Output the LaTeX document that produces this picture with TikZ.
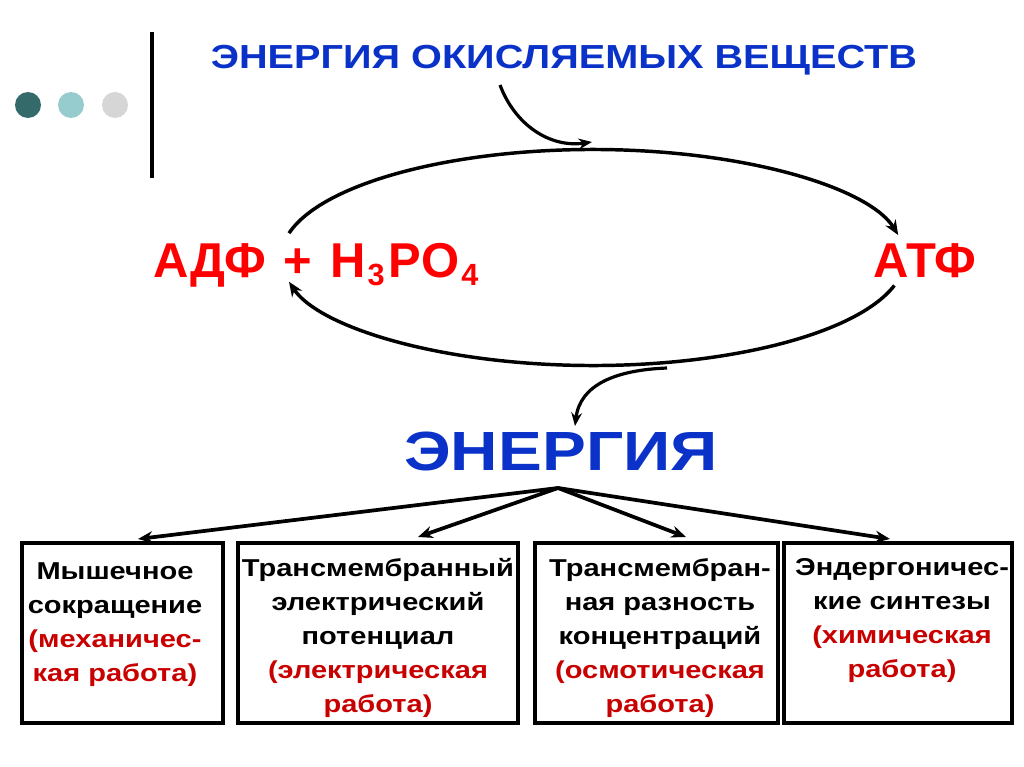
\documentclass[tikz,border=0pt]{standalone}
\usepackage{fontspec}
\setmainfont{Liberation Sans}[FakeStretch=1.19]
\newfontfamily\redfont{Liberation Sans}
\usetikzlibrary{arrows.meta}
\definecolor{ttlblue}{RGB}{10,50,200}
\definecolor{boxred}{RGB}{200,0,0}
\definecolor{dotA}{RGB}{52,106,106}
\definecolor{dotB}{RGB}{150,204,206}
\definecolor{dotC}{RGB}{214,214,214}
\tikzset{
  flow/.style={line width=2.6pt,-{Stealth[length=11pt,width=9pt]}},
  curv/.style={line width=2.4pt,-{Stealth[length=10pt,width=8pt]}},
  branch/.style={line width=2.8pt,-{Stealth[length=11pt,width=9pt]}},
  workbox/.style={draw,line width=3pt,rectangle,inner sep=0pt,minimum height=135pt},
  boxtext/.style={align=center,anchor=north,inner sep=0pt,font=\fontsize{18.3pt}{25.5pt}\selectfont\bfseries},
  bigred/.style={anchor=base west,inner sep=0pt,text=red,font=\redfont\fontsize{36.7pt}{44pt}\selectfont\bfseries}
}
\newcommand{\subdig}[1]{\kern1.5pt{\fontsize{23pt}{24pt}\selectfont\raisebox{-6.5pt}{#1}}\kern3pt}
\begin{document}
\begin{tikzpicture}[x=0.75pt,y=-0.75pt]
\useasboundingbox (0,0) rectangle (1024,767);
% decoration
\fill[dotA] (28,105) circle[radius=13];
\fill[dotB] (71,105) circle[radius=13];
\fill[dotC] (115,105) circle[radius=13];
\draw[line width=3pt] (152,32) -- (152,178);
% title
\node[anchor=base,inner sep=0pt,text=ttlblue,font=\fontsize{25pt}{30pt}\selectfont\bfseries] (title) at (564,69) {ЭНЕРГИЯ ОКИСЛЯЕМЫХ ВЕЩЕСТВ};
\node[bigred] (adf) at (153,277) {АДФ\kern3pt{} + \kern3pt H\subdig{3}PO\subdig{4}};
\node[bigred] (atf) at (873,277) {АТФ};
\node[anchor=base,inner sep=0pt,text=ttlblue,font=\fontsize{41.4pt}{50pt}\selectfont\bfseries] (energy) at (561,470) {ЭНЕРГИЯ};
% cycle
\coordinate (c) at (593,257.5);
\coordinate (tl) at ([shift={(-167:312 and 108)}]c);
\coordinate (br) at ([shift={(15:312 and 108)}]c);
\draw[flow] (tl) arc[start angle=-167,end angle=-12,x radius=312,y radius=108];
\draw[flow] (br) arc[start angle=15,end angle=167,x radius=312,y radius=108];
% incoming / outgoing curved arrows
\coordinate (inS) at (500,85);
\coordinate (inE) at (592,142);
\draw[curv] (inS) .. controls (515,125) and (550,148) .. (inE);
\coordinate (outS) at (667,368);
\coordinate (outE) at (575,426);
\draw[curv] (outS) .. controls (615,370) and (580,385) .. (outE);
% boxes
\node[workbox,minimum width=150.75pt] (b1) at (122.5,633) {};
\node[workbox,minimum width=210pt] (b2) at (378,633) {};
\node[workbox,minimum width=182.25pt] (b3) at (656.5,633) {};
\node[workbox,minimum width=171pt] (b4) at (898,633) {};
\coordinate (hub) at (558,488);
\coordinate (t1) at (138,539);
\coordinate (t2) at (418,537);
\coordinate (t3) at (686,537);
\coordinate (t4) at (890,539);
\draw[branch] (hub) -- (t1);
\draw[branch] (hub) -- (t2);
\draw[branch] (hub) -- (t3);
\draw[branch] (hub) -- (t4);
% box texts
\node[boxtext] (x1) at (115,562) {Мышечное\\сокращение\\\textcolor{boxred}{(механичес-}\\\textcolor{boxred}{кая работа)}};
\node[boxtext] (x2) at (378,558) {Трансмембранный\\электрический\\потенциал\\\textcolor{boxred}{(электрическая}\\\textcolor{boxred}{работа)}};
\node[boxtext] (x3) at (660,558) {Трансмембран-\\ная разность\\концентраций\\\textcolor{boxred}{(осмотическая}\\\textcolor{boxred}{работа)}};
\node[boxtext] (x4) at (902,558) {Эндергоничес-\\кие синтезы\\\textcolor{boxred}{(химическая}\\\textcolor{boxred}{работа)}};
\end{tikzpicture}
\end{document}
